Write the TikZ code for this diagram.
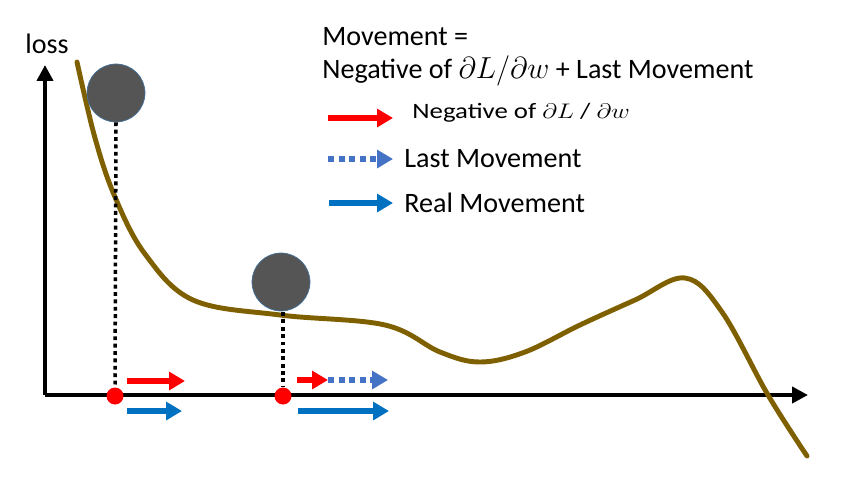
\documentclass[tikz,border=0pt]{standalone}
\usepackage{fontspec}
\setmainfont{Carlito}
\usetikzlibrary{arrows.meta}
\definecolor{curvec}{HTML}{7F6000}
\definecolor{redc}{HTML}{FF0000}
\definecolor{bluec}{HTML}{0070C0}
\definecolor{dotblue}{HTML}{4472C4}
\definecolor{ballc}{HTML}{555555}
\definecolor{ballb}{HTML}{41719C}
\tikzset{
  axis/.style={line width=2.4pt,-{Triangle[length=9pt,width=9pt]}},
  ball/.style={circle,fill=ballc,draw=ballb,line width=0.4pt,minimum size=58*0.02cm,inner sep=0pt},
  reddot/.style={circle,fill=redc,minimum size=17*0.02cm,inner sep=0pt},
  drop/.style={black,line width=2pt,dash pattern=on 2.2pt off 2pt},
  redarr/.style={redc,line width=3pt,-{Triangle[length=9pt,width=10pt]}},
  bluearr/.style={bluec,line width=3pt,-{Triangle[length=9pt,width=10pt]}},
  dotarr/.style={dotblue,line width=3pt,dash pattern=on 3.5pt off 2.5pt,-{Triangle[length=9pt,width=10pt]}},
  lbl/.style={anchor=west,inner sep=0pt,font=\fontsize{16pt}{19pt}\selectfont},
}
\begin{document}
\begin{tikzpicture}[x=0.02cm,y=-0.02cm]
\useasboundingbox (0,0) rectangle (858,481);
% axes
\coordinate (O) at (45,395);
\coordinate (ytip) at (45,65);
\coordinate (xtip) at (808,395);
\draw[axis] (O) -- (ytip);
\draw[axis] (O) -- (xtip);
\node[lbl] (loss) at (25,44) {loss};
% curve
\draw[curvec,line width=2.8pt,line cap=round] plot[smooth,tension=0.6] coordinates {
 (77,62) (95,138) (115,197) (145,254) (193,300) (280,315) (385,325)
 (440,352) (480,362) (525,352) (580,325) (635,300) (685,278)
 (722,312) (768,395) (807,456)};
% balls
\node[ball] (b1) at (116,93) {};
\node[ball] (b2) at (281,282) {};
\node[reddot] (d1) at (115,396) {};
\node[reddot] (d2) at (283,396) {};
\draw[drop] (b1.south) -- (d1.north);
\draw[drop] (283,312) -- (d2.north);
% movement arrows
\coordinate (r1s) at (127,381); \coordinate (r1e) at (185,381);
\coordinate (u1s) at (127,411); \coordinate (u1e) at (182,411);
\coordinate (r2s) at (297,380); \coordinate (r2e) at (328,380);
\coordinate (v2e) at (388,380);
\coordinate (u2s) at (298,411); \coordinate (u2e) at (389,411);
\draw[redarr] (r1s) -- (r1e);
\draw[bluearr] (u1s) -- (u1e);
\draw[dotarr] (r2e) -- (v2e);
\draw[redarr] (r2s) -- (r2e);
\draw[bluearr] (u2s) -- (u2e);
% legend
\node[lbl] (t1) at (322,37) {Movement =};
\node[lbl] (t2) at (322,71) {Negative of $\partial L/\partial w$ + Last Movement};
\coordinate (l1s) at (328,118); \coordinate (l1e) at (393,118);
\coordinate (l2s) at (328,159); \coordinate (l2e) at (393,159);
\coordinate (l3s) at (329,203); \coordinate (l3e) at (393,203);
\draw[redarr] (l1s) -- (l1e);
\draw[dotarr] (l2s) -- (l2e);
\draw[bluearr] (l3s) -- (l3e);
\node[lbl,font=\fontsize{12.5pt}{14pt}\selectfont,xscale=1.22] (n1) at (412,113) {Negative of $\partial L$ / $\partial w$};
\node[lbl] (n2) at (404,159) {Last Movement};
\node[lbl] (n3) at (404,203) {Real Movement};
\end{tikzpicture}
\end{document}
